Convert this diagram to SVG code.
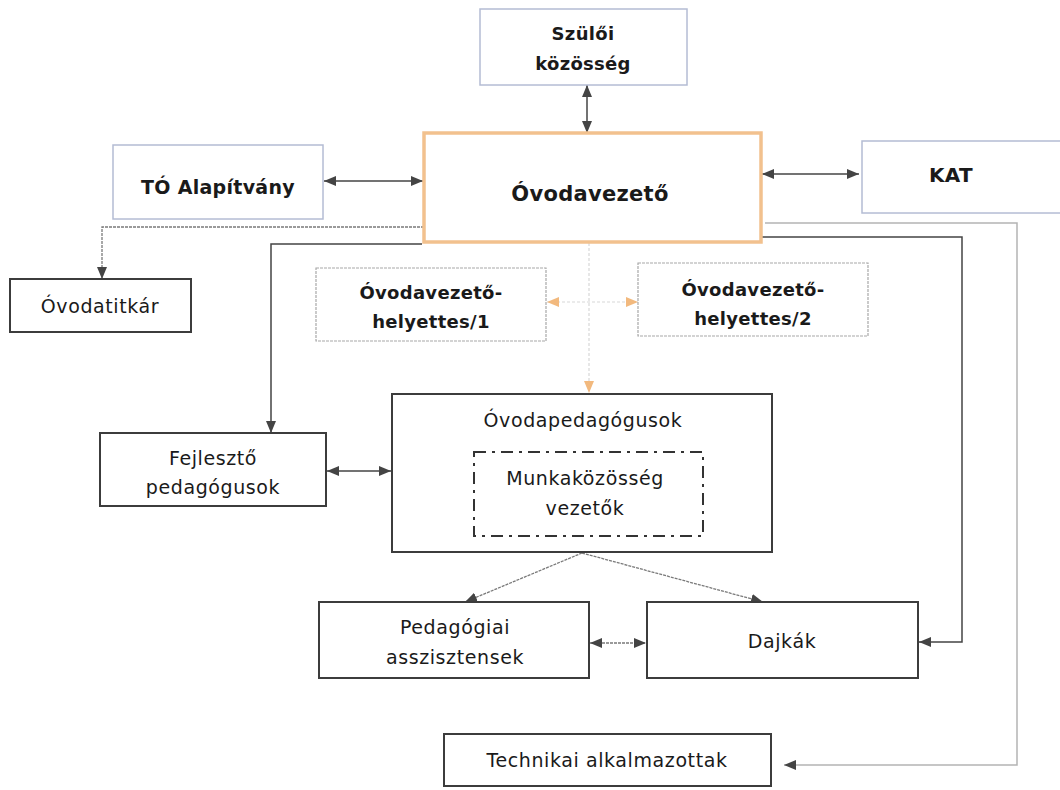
<svg xmlns="http://www.w3.org/2000/svg" width="1060" height="790" viewBox="0 0 1060 790">
<defs>
<style>
.bg{fill:#ffffff}
.box{fill:#ffffff;stroke:#3c3c3c;stroke-width:2}
.blue{fill:#ffffff;stroke:#b4bcd4;stroke-width:1.5}
.grey{fill:#ffffff;stroke:#a8a8a8;stroke-width:1.2;stroke-dasharray:3,1}
.orange{fill:#ffffff;stroke:#f2c18e;stroke-width:3.5}
.dash{fill:none;stroke:#333333;stroke-width:2;stroke-dasharray:12,6,3,6}
.t{font-family:"DejaVu Sans","Liberation Sans",sans-serif;font-size:19px;fill:#1a1a1a;text-anchor:middle;letter-spacing:0.6px}
.b{font-family:"DejaVu Sans","Liberation Sans",sans-serif;font-size:18px;font-weight:bold;fill:#1a1a1a;text-anchor:middle;letter-spacing:0.3px}
.c{fill:none;stroke:#444444;stroke-width:1.5}
.cl{fill:none;stroke:#7a7a7a;stroke-width:1.3;stroke-dasharray:3,1}
.co{fill:none;stroke:#d8d8d8;stroke-width:1.2;stroke-dasharray:3,2}
.cg{fill:none;stroke:#b4b4b4;stroke-width:1.5}
</style>
<marker id="ah" viewBox="0 0 12 10" refX="12" refY="5" markerWidth="12" markerHeight="10" markerUnits="userSpaceOnUse" orient="auto-start-reverse">
<path d="M0,0 L12,5 L0,10 z" fill="#444444"/>
</marker>
<marker id="ao" viewBox="0 0 12 10" refX="12" refY="5" markerWidth="12" markerHeight="10" markerUnits="userSpaceOnUse" orient="auto-start-reverse">
<path d="M0,0 L12,5 L0,10 z" fill="#f2b97e"/>
</marker>
</defs>
<rect class="bg" x="0" y="0" width="1060" height="790"/>

<g id="connectors">
<line class="c" x1="587" y1="85" x2="587" y2="133" marker-start="url(#ah)" marker-end="url(#ah)"/>
<line class="c" x1="324" y1="181" x2="423" y2="181" marker-start="url(#ah)" marker-end="url(#ah)"/>
<line class="c" x1="762" y1="174" x2="859" y2="174" marker-start="url(#ah)" marker-end="url(#ah)"/>
<polyline class="cl" points="424,227 102,227 102,279" marker-end="url(#ah)"/>
<polyline class="c" points="422,244 271,244 271,433" marker-end="url(#ah)"/>
<polyline class="co" points="589,243 589,393" marker-end="url(#ao)"/>
<line class="co" x1="547" y1="302" x2="638" y2="302" marker-start="url(#ao)" marker-end="url(#ao)"/>
<line class="c" x1="327" y1="471" x2="391" y2="471" marker-start="url(#ah)" marker-end="url(#ah)"/>
<line class="cl" x1="582" y1="553" x2="465" y2="602" marker-end="url(#ah)"/>
<line class="cl" x1="582" y1="553" x2="763" y2="602" marker-end="url(#ah)"/>
<line class="cl" x1="590" y1="643" x2="646" y2="643" marker-start="url(#ah)" marker-end="url(#ah)"/>
<polyline class="c" points="762,237 962,237 962,642 919,642" marker-end="url(#ah)"/>
<polyline class="cg" points="765,223 1017,223 1017,765 784,765" marker-end="url(#ah)"/>
</g>

<g id="szuloi">
<rect class="blue" x="480" y="9" width="207" height="76"/>
<text class="b" x="583" y="40">Szülői</text>
<text class="b" x="583" y="70">közösség</text>
</g>
<g id="ovodavezeto">
<rect class="orange" x="424" y="133" width="337" height="109"/>
<text class="b" x="590" y="201" style="font-size:21px">Óvodavezető</text>
</g>
<g id="to-alapitvany">
<rect class="blue" x="113" y="145" width="210" height="74"/>
<text class="b" x="218" y="194" style="font-size:19px">TÓ Alapítvány</text>
</g>
<g id="kat">
<rect class="blue" x="862" y="141" width="202" height="72"/>
<text class="b" x="951" y="182" style="font-size:20px">KAT</text>
</g>
<g id="ovodatitkar">
<rect class="box" x="10" y="279" width="181" height="53"/>
<text class="t" x="100" y="313">Óvodatitkár</text>
</g>
<g id="helyettes1">
<rect class="grey" x="316" y="268" width="230" height="73"/>
<text class="b" x="431" y="299">Óvodavezető-</text>
<text class="b" x="431" y="328">helyettes/1</text>
</g>
<g id="helyettes2">
<rect class="grey" x="638" y="263" width="230" height="73"/>
<text class="b" x="753" y="296">Óvodavezető-</text>
<text class="b" x="753" y="325">helyettes/2</text>
</g>
<g id="fejleszto">
<rect class="box" x="100" y="433" width="226" height="73"/>
<text class="t" x="213" y="465">Fejlesztő</text>
<text class="t" x="213" y="494">pedagógusok</text>
</g>
<g id="ovodapedagogusok">
<rect class="box" x="392" y="394" width="380" height="158"/>
<text class="t" x="583" y="427">Óvodapedagógusok</text>
<g id="munkakozosseg">
<rect class="dash" x="474" y="452" width="229" height="84"/>
<text class="t" x="585" y="485">Munkaközösség</text>
<text class="t" x="585" y="515">vezetők</text>
</g>
</g>
<g id="pedagogiai">
<rect class="box" x="319" y="602" width="270" height="76"/>
<text class="t" x="455" y="634">Pedagógiai</text>
<text class="t" x="455" y="664">asszisztensek</text>
</g>
<g id="dajkak">
<rect class="box" x="647" y="602" width="271" height="76"/>
<text class="t" x="782" y="648">Dajkák</text>
</g>
<g id="technikai">
<rect class="box" x="444" y="734" width="327" height="52"/>
<text class="t" x="607" y="767">Technikai alkalmazottak</text>
</g>
</svg>
